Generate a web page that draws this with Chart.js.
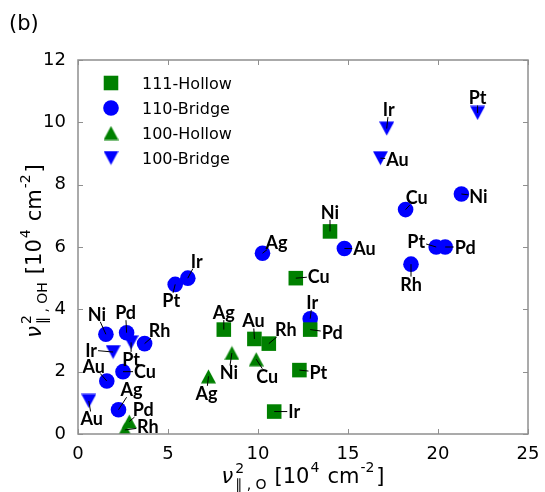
<!DOCTYPE html>
<html>
<head>
<meta charset="utf-8">
<script src="https://cdn.jsdelivr.net/npm/chart.js@4"></script>
<style>
  body { margin: 0; background: #fff; }
  canvas { display: block; }
</style>
</head>
<body>
<canvas id="chart" width="545" height="492"></canvas>
<script>
// --- data ---
const hollow111Names = ['Ni', 'Cu', 'Ag', 'Au', 'Rh', 'Pd', 'Pt', 'Ir'];
const hollow111X = [14.0, 12.1, 8.1, 9.8, 10.6, 12.9, 12.3, 10.9];
const hollow111Y = [6.5, 5.0, 3.35, 3.05, 2.9, 3.35, 2.05, 0.72];

const bridge110Names = ['Ir', 'Ag', 'Au', 'Cu', 'Ni', 'Pt', 'Pd', 'Rh', 'Ir', 'Pt', 'Ni', 'Pd', 'Rh', 'Cu', 'Au', 'Ag'];
const bridge110X = [12.9, 10.25, 14.8, 18.2, 21.3, 19.9, 20.4, 18.5, 6.1, 5.4, 1.55, 2.7, 3.7, 2.5, 1.6, 2.25];
const bridge110Y = [3.7, 5.8, 5.95, 7.2, 7.7, 6.0, 6.0, 5.45, 5.0, 4.8, 3.2, 3.25, 2.9, 2.0, 1.7, 0.78];

const hollow100Names = ['Ni', 'Cu', 'Ag', 'Pd', 'Rh'];
const hollow100X = [8.55, 9.9, 7.25, 2.85, 2.6];
const hollow100Y = [2.6, 2.4, 1.85, 0.4, 0.13];

const bridge100Names = ['Ir', 'Pt', 'Au', 'Ir', 'Pt', 'Au'];
const bridge100X = [17.15, 22.2, 16.8, 1.95, 2.95, 0.6];
const bridge100Y = [9.8, 10.3, 8.85, 2.63, 2.94, 1.06];

const seriesNames = ['111-Hollow', '110-Bridge', '100-Hollow', '100-Bridge'];
const xTicks = [0, 5, 10, 15, 20, 25];
const yTicks = [0, 2, 4, 6, 8, 10, 12];

// label placement (pixel offsets of each label from its marker)
const hollow111Offsets = [[0, -19], [23, -2], [0, -17], [-1, -18], [17, -14], [22, 3], [19, 2], [20, 0]];
const bridge110Offsets = [[2, -16], [14, -11], [20, 0], [11, -12], [17, 2], [-20, -6], [20, 0], [0, 20],
                          [9, -17], [-4, 16], [-9, -20], [-1, -20], [15, -13], [22, 0], [-13, -15], [13, -20]];
const hollow100Offsets = [[-3, 20], [11, 17], [-2, 17], [14, -12], [23, -3]];
const bridge100Offsets = [[2, -19], [0, -15], [17, 1], [-22, -2], [0, 17], [3, 18]];

const GREEN = '#008000';
const BLUE = '#0000ff';

function points(xs, ys) {
    return xs.map((x, i) => ({ x: x, y: ys[i] }));
}

// matplotlib-like triangles: bounding box centred on the point
function triangle(color, down) {
    const c = document.createElement('canvas');
    c.width = 15; c.height = 15;
    const g = c.getContext('2d');
    g.fillStyle = color;
    g.beginPath();
    if (down) {
        g.moveTo(0, 0.5); g.lineTo(15, 0.5); g.lineTo(7.5, 14.5);
    } else {
        g.moveTo(7.5, 0.5); g.lineTo(15, 14.5); g.lineTo(0, 14.5);
    }
    g.closePath();
    g.fill();
    return c;
}

const triUp = triangle(GREEN, false);
const triDown = triangle(BLUE, true);

const datasets = [
    { label: seriesNames[0], data: points(hollow111X, hollow111Y), names: hollow111Names, offsets: hollow111Offsets,
      pointStyle: 'rect', pointRadius: 10.3, backgroundColor: GREEN, borderColor: GREEN, borderWidth: 0 },
    { label: seriesNames[1], data: points(bridge110X, bridge110Y), names: bridge110Names, offsets: bridge110Offsets,
      pointStyle: 'circle', pointRadius: 7.8, backgroundColor: BLUE, borderColor: BLUE, borderWidth: 0 },
    { label: seriesNames[2], data: points(hollow100X, hollow100Y), names: hollow100Names, offsets: hollow100Offsets,
      pointStyle: triUp, pointRadius: 8, backgroundColor: GREEN, borderColor: GREEN, borderWidth: 0 },
    { label: seriesNames[3], data: points(bridge100X, bridge100Y), names: bridge100Names, offsets: bridge100Offsets,
      pointStyle: triDown, pointRadius: 8, backgroundColor: BLUE, borderColor: BLUE, borderWidth: 0 }
];

const LABEL_FONT = 'bold 18px Lato';
const FRAME = '#8f8f8f';

// element labels with short leader lines
const labelPlugin = {
    id: 'elementLabels',
    afterDatasetsDraw(chart) {
        const ctx = chart.ctx;
        ctx.save();
        ctx.font = LABEL_FONT;
        ctx.fillStyle = '#000';
        ctx.strokeStyle = '#000';
        ctx.lineWidth = 1;
        ctx.textAlign = 'center';
        ctx.textBaseline = 'alphabetic';
        chart.data.datasets.forEach((ds, i) => {
            chart.getDatasetMeta(i).data.forEach((pt, j) => {
                const [dx, dy] = ds.offsets[j];
                const hw = ctx.measureText(ds.names[j]).width / 2 + 1;
                const hh = 7.5;
                const tx = dx !== 0 ? (Math.abs(dx) - hw) / Math.abs(dx) : -Infinity;
                const ty = dy !== 0 ? (Math.abs(dy) - hh) / Math.abs(dy) : -Infinity;
                const t = Math.max(0, Math.min(1, Math.max(tx, ty)));
                ctx.beginPath();
                ctx.moveTo(pt.x, pt.y);
                ctx.lineTo(pt.x + dx * t, pt.y + dy * t);
                ctx.stroke();
                ctx.fillText(ds.names[j], pt.x + dx, pt.y + dy + 6.5);
            });
        });
        ctx.restore();
    }
};

// draw a run of text pieces (main text, superscripts, subscripts) centred on 0
function drawMath(ctx, pieces) {
    const widths = pieces.map(p => {
        if (p.stack) {
            ctx.font = '14px "DejaVu Sans"';
            return Math.max(ctx.measureText(p.sup).width, ctx.measureText(p.sub).width) + (p.gap || 0);
        }
        ctx.font = p.font;
        return ctx.measureText(p.t).width + (p.gap || 0);
    });
    const total = widths.reduce((a, b) => a + b, 0);
    let x = -total / 2;
    pieces.forEach((p, i) => {
        x += p.gap || 0;
        if (p.stack) {
            ctx.font = '14px "DejaVu Sans"';
            ctx.fillText(p.sup, x, -10);
            ctx.fillText(p.sub, x, 6);
        } else {
            ctx.font = p.font;
            ctx.fillText(p.t, x, p.dy || 0);
        }
        x += widths[i] - (p.gap || 0);
    });
}

function titlePieces(sub) {
    const main = '21px "DejaVu Sans"';
    const small = '14px "DejaVu Sans"';
    return [
        { t: 'ν', font: 'oblique 21px "DejaVu Sans"' },
        { stack: true, sup: '2', sub: sub, gap: 2 },
        { t: '[10', font: main, gap: 8 },
        { t: '4', font: small, dy: -11, gap: 1 },
        { t: 'cm', font: main, gap: 8 },
        { t: '-2', font: small, dy: -11, gap: 1 },
        { t: ']', font: main, gap: 2 }
    ];
}

// frame, inward ticks on all sides, axis titles, legend, panel tag
const decorPlugin = {
    id: 'decor',
    afterDraw(chart) {
        const ctx = chart.ctx;
        const a = chart.chartArea;
        const sx = chart.scales.x, sy = chart.scales.y;
        ctx.save();
        ctx.strokeStyle = FRAME;
        ctx.lineWidth = 1.5;
        ctx.strokeRect(a.left, a.top, a.right - a.left, a.bottom - a.top);
        ctx.lineWidth = 1;
        ctx.beginPath();
        xTicks.forEach(v => {
            const px = Math.round(sx.getPixelForValue(v)) + 0.5;
            ctx.moveTo(px, a.bottom); ctx.lineTo(px, a.bottom - 5);
            ctx.moveTo(px, a.top); ctx.lineTo(px, a.top + 5);
        });
        yTicks.forEach(v => {
            const py = Math.round(sy.getPixelForValue(v)) + 0.5;
            ctx.moveTo(a.left, py); ctx.lineTo(a.left + 5, py);
            ctx.moveTo(a.right, py); ctx.lineTo(a.right - 5, py);
        });
        ctx.stroke();

        ctx.fillStyle = '#000';
        ctx.textAlign = 'left';
        ctx.textBaseline = 'alphabetic';

        // x title
        ctx.save();
        ctx.translate((a.left + a.right) / 2, 483);
        drawMath(ctx, titlePieces('\u2225 , O'));
        ctx.restore();

        // y title
        ctx.save();
        ctx.translate(41, (a.top + a.bottom) / 2 + 4);
        ctx.rotate(-Math.PI / 2);
        drawMath(ctx, titlePieces('\u2225 , OH'));
        ctx.restore();

        // legend
        ctx.font = '16px "DejaVu Sans"';
        chart.data.datasets.forEach((ds, i) => {
            const cy = 83 + i * 25;
            ctx.fillStyle = ds.backgroundColor;
            ctx.strokeStyle = ds.borderColor;
            Chart.helpers.drawPoint(ctx, {
                pointStyle: ds.pointStyle, radius: ds.pointRadius, rotation: 0, borderWidth: 0
            }, 111, cy);
            ctx.fillStyle = '#000';
            ctx.fillText(ds.label, 142, cy + 6);
        });

        // panel tag
        ctx.font = '21px "DejaVu Sans"';
        ctx.fillText('(b)', 9, 30);
        ctx.restore();
    }
};

const tickFont = { family: 'DejaVu Sans', size: 18 };

new Chart(document.getElementById('chart'), {
    type: 'scatter',
    data: { datasets: datasets },
    options: {
        responsive: false,
        animation: false,
        layout: { padding: { top: 60, right: 17, left: 0, bottom: 0 } },
        plugins: { legend: { display: false }, tooltip: { enabled: false } },
        scales: {
            x: {
                min: 0, max: 25,
                afterBuildTicks: s => { s.ticks = xTicks.map(v => ({ value: v })); },
                afterFit: s => { s.height = 58; },
                grid: { display: false },
                border: { display: false },
                ticks: { font: tickFont, color: '#000', padding: 2, maxRotation: 0, autoSkip: false }
            },
            y: {
                min: 0, max: 12,
                afterBuildTicks: s => { s.ticks = yTicks.map(v => ({ value: v })); },
                afterFit: s => { s.width = 78; },
                grid: { display: false },
                border: { display: false },
                ticks: { font: tickFont, color: '#000', padding: 4, autoSkip: false }
            }
        }
    },
    plugins: [labelPlugin, decorPlugin]
});
</script>
</body>
</html>
